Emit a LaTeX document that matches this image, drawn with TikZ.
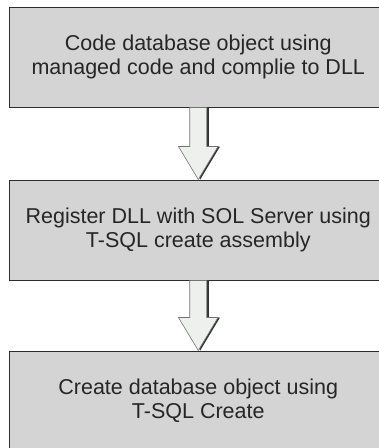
\documentclass[tikz,border=0pt]{standalone}
\usepackage{fontspec}
\setmainfont{Liberation Sans}
\usetikzlibrary{positioning,calc}

\definecolor{boxgray}{RGB}{212,212,212}
\definecolor{arrowfill}{RGB}{238,240,238}
\definecolor{edgegray}{RGB}{45,45,45}

\newcommand{\flowarrow}[2]{%
  \fill[black!80] let \p1=(#1.south), \p2=(#2.north) in
    (\x1-6.5pt,\y1) -- (\x1-6.5pt,\y2+33pt) -- (\x1-17.75pt,\y2+33pt) -- (\x1+2pt,\y2)
    -- (\x1+21.75pt,\y2+33pt) -- (\x1+10.5pt,\y2+33pt) -- (\x1+10.5pt,\y1) -- cycle;
  \draw[flowarrow] let \p1=(#1.south), \p2=(#2.north) in
    (\x1-8.5pt,\y1) -- (\x1-8.5pt,\y2+33pt) -- (\x1-19.75pt,\y2+33pt) -- (\x1,\y2)
    -- (\x1+19.75pt,\y2+33pt) -- (\x1+8.5pt,\y2+33pt) -- (\x1+8.5pt,\y1) -- cycle;}

\begin{document}
\begin{tikzpicture}[x=1pt, y=1pt,
    stepbox/.style={draw=edgegray, fill=boxgray, line width=1pt, minimum width=377.5pt,
      minimum height=100pt, align=center, text=black!85, inner sep=0pt,
      font=\fontsize{21.5}{24}\selectfont},
    flowarrow/.style={fill=arrowfill, draw=black!55, line width=0.6pt}]
  \useasboundingbox (0,0) rectangle (379,-448);
  \clip (0,0) rectangle (379,-448);

  \node[stepbox] (code) at (198.25,-57) {Code database object using\\managed code and complie to DLL};
  \node[stepbox, below=72pt of code] (register) {Register DLL with SOL Server using\\T-SQL create assembly};
  \node[stepbox, below=70pt of register] (create) {Create database object using\\T-SQL Create};

  \flowarrow{code}{register}
  \flowarrow{register}{create}
\end{tikzpicture}
\end{document}
